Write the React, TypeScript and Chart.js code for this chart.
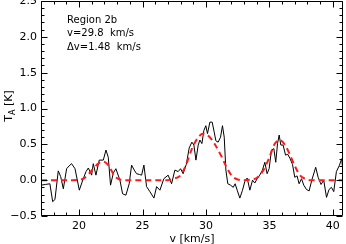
import React, { useEffect, useRef } from "react";
import { Chart, registerables } from "chart.js";

Chart.register(...registerables);

// Observed spectrum: velocity (km/s) and antenna temperature (K)
const specV = [
  17.0, 17.35, 17.7, 17.92, 18.1, 18.36, 18.55, 18.76, 19.02, 19.22, 19.41, 19.68,
  20.02, 20.33, 20.55, 20.73, 20.99, 21.12, 21.33, 21.59, 21.91, 22.12, 22.3, 22.48,
  22.7, 22.9, 23.22, 23.43, 23.69, 23.95, 24.14, 24.35, 24.53, 24.75, 24.93, 25.11,
  25.32, 25.58, 25.9, 26.11, 26.37, 26.68, 27.02, 27.29, 27.55, 27.81, 28.0, 28.2,
  28.45, 28.68, 28.89, 29.05, 29.21, 29.39, 29.52, 29.68, 29.83, 29.99, 30.12, 30.31,
  30.49, 30.65, 30.78, 30.96, 31.15, 31.3, 31.44, 31.57, 31.72, 31.94, 32.15, 32.3,
  32.46, 32.67, 32.88, 33.06, 33.25, 33.46, 33.67, 33.85, 34.03, 34.24, 34.45, 34.64,
  34.82, 34.98, 35.16, 35.35, 35.5, 35.64, 35.77, 35.9, 36.08, 36.27, 36.45, 36.63,
  36.82, 37.0, 37.18, 37.34, 37.53, 37.71, 37.92, 38.13, 38.34, 38.65, 38.84, 39.07,
  39.28, 39.5, 39.7, 39.89, 40.07, 40.28, 40.5, 40.7, 40.85,
];
const specT = [
  -0.07, -0.06, -0.05, -0.3, -0.27, 0.13, 0.05, -0.12, 0.16, 0.2, 0.23, 0.16,
  -0.14, 0.02, 0.12, 0.17, 0.07, 0.23, 0.07, 0.28, 0.28, 0.42, 0.32, -0.07,
  0.1, 0.16, 0.0, -0.19, -0.21, -0.05, 0.21, 0.14, 0.09, 0.08, 0.07, 0.21,
  -0.09, -0.16, -0.25, -0.09, -0.14, 0.02, 0.07, -0.05, 0.14, 0.12, 0.16, 0.09,
  0.22, 0.45, 0.53, 0.49, 0.28, 0.49, 0.56, 0.51, 0.69, 0.76, 0.65, 0.81,
  0.81, 0.67, 0.55, 0.53, 0.6, 0.76, 0.6, 0.14, -0.05, -0.07, -0.1, -0.05,
  -0.14, -0.25, -0.14, -0.02, 0.03, -0.14, 0.0, -0.04, 0.02, 0.07, 0.14, 0.25,
  0.09, 0.16, 0.42, 0.44, 0.25, 0.51, 0.63, 0.49, 0.49, 0.35, 0.36, 0.3,
  0.22, 0.04, 0.06, -0.05, 0.02, -0.07, -0.13, -0.15, 0.0, 0.18, 0.04, -0.06,
  0.0, -0.24, -0.13, -0.1, -0.16, 0.12, 0.2, 0.3, 0.0,
];

// Gaussian fit (red dashed)
const fitV = [
  17.0, 19.5, 20.0, 20.33, 20.73, 21.12, 21.51, 21.9, 22.3, 22.56, 22.83, 23.22, 23.6,
  27.0, 27.4, 27.95, 28.4, 28.9, 29.4, 29.8, 30.3, 30.7, 31.2, 31.6, 32.0, 32.5, 33.0,
  33.6, 34.0, 34.5, 35.0, 35.4, 35.8, 36.2, 36.6, 37.0, 37.4, 37.8, 38.3, 40.8,
];
const fitT = [
  0, 0, 0.005, 0.02, 0.08, 0.16, 0.23, 0.26, 0.21, 0.13, 0.05, 0.01, 0,
  0, 0.02, 0.06, 0.2, 0.44, 0.6, 0.65, 0.6, 0.5, 0.34, 0.19, 0.07, 0.01, 0,
  0.01, 0.03, 0.13, 0.32, 0.5, 0.56, 0.5, 0.36, 0.2, 0.07, 0.02, 0, 0,
];

const xMin = 17;
const xMax = 40.8;
const yMin = -0.5;
const yMax = 2.5;
const xTickValues = [20, 25, 30, 35, 40];
const yTickValues = [-0.5, 0, 0.5, 1.0, 1.5, 2.0, 2.5];
const xTitle = "v [km/s]";
const yTitleMain = "T";
const yTitleSub = "A";
const yTitleRest = " [K]";
const annotationLines = ["Region 2b", "v=29.8  km/s", "\u0394v=1.48  km/s"];

const FONT = '"DejaVu Sans", sans-serif';

const framePlugin = {
  id: "idlFrame",
  afterDraw(chart: any) {
    const { ctx, chartArea: a, scales } = chart;
    const x = scales.x;
    const y = scales.y;
    ctx.save();
    ctx.strokeStyle = "#000";
    ctx.lineWidth = 1;
    const L = Math.round(a.left) + 0.5;
    const R = Math.round(a.right) - 0.5;
    const T = Math.round(a.top) + 0.5;
    const B = Math.round(a.bottom) - 0.5;
    ctx.beginPath();
    ctx.rect(L, T, R - L, B - T);
    ctx.stroke();

    // y ticks (major every 0.5, minor every 0.1), on left and right
    ctx.beginPath();
    for (let i = Math.round(yMin * 10); i <= Math.round(yMax * 10); i++) {
      const v = i / 10;
      const py = Math.round(y.getPixelForValue(v)) + 0.5;
      const len = i % 5 === 0 ? 6 : 3;
      ctx.moveTo(L, py);
      ctx.lineTo(L + len, py);
      ctx.moveTo(R, py);
      ctx.lineTo(R - len, py);
    }
    // x ticks (major every 5, minor every 1), on bottom and top
    for (let v = Math.ceil(xMin); v <= Math.floor(xMax); v++) {
      const px = Math.round(x.getPixelForValue(v)) + 0.5;
      const len = v % 5 === 0 ? 6 : 3;
      ctx.moveTo(px, B);
      ctx.lineTo(px, B - len);
      ctx.moveTo(px, T);
      ctx.lineTo(px, T + len);
    }
    ctx.stroke();

    // annotation text
    ctx.fillStyle = "#000";
    ctx.font = `10px ${FONT}`;
    ctx.textAlign = "left";
    ctx.textBaseline = "middle";
    const tx = a.left + 26;
    annotationLines.forEach((s, i) => {
      ctx.fillText(s, tx, 20 + i * 13.75);
    });

    // x title
    ctx.font = `11px ${FONT}`;
    ctx.textAlign = "center";
    ctx.fillText(xTitle, (a.left + a.right) / 2, 239.5);

    // y title with subscript, rotated
    ctx.save();
    ctx.translate(9, 106);
    ctx.rotate(-Math.PI / 2);
    ctx.textAlign = "left";
    ctx.textBaseline = "middle";
    ctx.font = `11px ${FONT}`;
    const wT = ctx.measureText(yTitleMain).width;
    const wR = ctx.measureText(yTitleRest).width;
    ctx.font = `8px ${FONT}`;
    const wA = ctx.measureText(yTitleSub).width;
    const total = wT + wA + wR;
    let cx = -total / 2;
    ctx.font = `11px ${FONT}`;
    ctx.fillText(yTitleMain, cx, 0);
    cx += wT;
    ctx.font = `8px ${FONT}`;
    ctx.fillText(yTitleSub, cx, 4);
    cx += wA;
    ctx.font = `11px ${FONT}`;
    ctx.fillText(yTitleRest, cx, 0);
    ctx.restore();

    ctx.restore();
  },
};

export default function App() {
  const ref = useRef<HTMLCanvasElement | null>(null);

  useEffect(() => {
    document.body.style.margin = "0";
    const canvas = ref.current;
    if (!canvas) return;
    const spectrum = specV.map((v, i) => ({ x: v, y: specT[i] }));
    const fit = fitV.map((v, i) => ({ x: v, y: fitT[i] }));

    const chart = new Chart(canvas, {
      type: "line",
      data: {
        datasets: [
          {
            label: "fit",
            data: fit,
            borderColor: "#ff1a1a",
            borderWidth: 2,
            borderDash: [6, 4],
            pointRadius: 0,
            fill: false,
            cubicInterpolationMode: "monotone",
            order: 0,
          },
          {
            label: "spectrum",
            data: spectrum,
            borderColor: "#000",
            borderWidth: 1,
            pointRadius: 0,
            fill: false,
            tension: 0,
            order: 1,
          },
        ],
      },
      options: {
        responsive: false,
        animation: false,
        events: [],
        layout: { padding: { left: 0, right: 3, top: 1, bottom: 0 } },
        plugins: {
          legend: { display: false },
          tooltip: { enabled: false },
          title: { display: false },
        },
        scales: {
          x: {
            type: "linear",
            position: "bottom",
            min: xMin,
            max: xMax,
            grid: { display: false, drawTicks: false },
            border: { display: false },
            ticks: {
              color: "#000",
              font: { family: FONT, size: 11 },
              padding: 4,
              maxRotation: 0,
              autoSkip: false,
              callback: (v: any) => String(v),
            },
            afterBuildTicks: (scale: any) => {
              scale.ticks = xTickValues.map((v) => ({ value: v }));
            },
            afterFit: (scale: any) => {
              scale.height = 28;
              scale.paddingLeft = 0;
              scale.paddingRight = 0;
            },
          },
          y: {
            type: "linear",
            position: "left",
            min: yMin,
            max: yMax,
            grid: { display: false, drawTicks: false },
            border: { display: false },
            ticks: {
              color: "#000",
              font: { family: FONT, size: 11 },
              padding: 4,
              autoSkip: false,
              callback: (v: any) => {
                const n = Number(v);
                return (n < 0 ? "\u2212" : "") + Math.abs(n).toFixed(1);
              },
            },
            afterBuildTicks: (scale: any) => {
              scale.ticks = yTickValues.map((v) => ({ value: v }));
            },
            afterFit: (scale: any) => {
              scale.width = 41;
              scale.paddingTop = 0;
              scale.paddingBottom = 0;
            },
          },
        },
      },
      plugins: [framePlugin],
    });

    return () => {
      chart.destroy();
    };
  }, []);

  return (
    <canvas
      ref={ref}
      width={346}
      height={244}
      style={{ display: "block", width: 346, height: 244 }}
    />
  );
}
